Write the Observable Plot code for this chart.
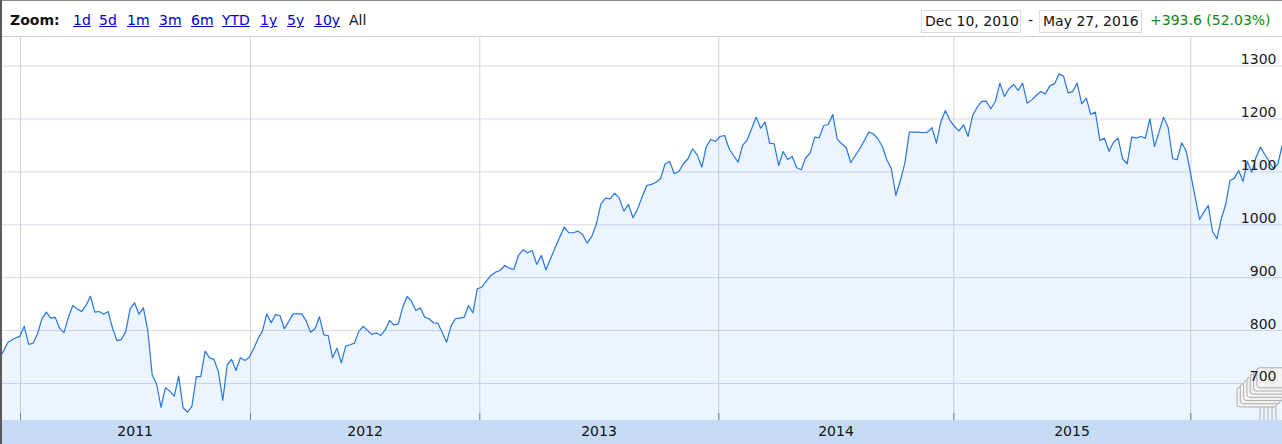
<!DOCTYPE html>
<html>
<head>
<meta charset="utf-8">
<script src="https://cdn.jsdelivr.net/npm/d3@7"></script>
<script src="https://cdn.jsdelivr.net/npm/@observablehq/plot@0.6"></script>
<style>
  body { margin: 0; background: #fff; font-family: "DejaVu Sans", Verdana, sans-serif; }
  #wrap { position: relative; width: 1282px; height: 444px; overflow: hidden; background: #fff; }
  #head { position: absolute; left: 0; top: 0; width: 1282px; height: 37px; box-sizing: border-box;
          border-top: 1px solid #8a8a8a; border-bottom: 1px solid #cfcfcf; background: #fff; font-size: 14px; }
  #head span { position: absolute; top: 11px; line-height: 17px; white-space: nowrap; }
  #head .lnk { color: #0000cc; text-decoration: underline; }
  #head .box { top: 9px; height: 23px; box-sizing: border-box; border: 1px solid #dcdcdc; line-height: 21px; padding-left: 3px; color: #111; }
  #chart { position: absolute; left: 0; top: 37px; }
  #edge { position: absolute; left: 0; top: 0; width: 2px; height: 444px; background: #5a5a5a; }
</style>
</head>
<body>
<div id="wrap">
  <div id="head"></div>
  <div id="chart"></div>
  <div id="edge"></div>
</div>
<script>
// ---------- data (weekly closes) ----------
const v2010 = [756.5, 778, 784.5, 789];
const v2011 = [808, 774, 776, 794, 822, 835, 823.5, 825, 804.5, 796,
  825, 847.5, 841, 836, 847.5, 865, 835, 836, 831, 836,
  804.5, 781, 783, 798, 841, 852.5, 831, 843, 800, 716,
  699, 655, 692, 685.5, 676, 714, 654, 646, 656.5, 713,
  713, 761, 748.5, 745.5, 722.5, 668, 735, 745.5, 724.5, 748.5,
  743.5, 749.5];
const v2012 = [765.5, 784.5, 799, 831.5, 815, 830, 828.5, 803.5, 817, 831.5,
  831.5, 831.5, 817.8, 797, 803.5, 826, 792, 790.7, 748.6, 766.7,
  739, 770.5, 773.2, 776.2, 798.9, 807.7, 800, 792.6, 795.7, 790.7,
  801.3, 819, 810.8, 812.7, 844.2, 864.5, 855.6, 838, 843, 825.3,
  822.3, 814.7, 814, 797, 778.1, 808.3, 822.3, 823.5, 825.3, 847.4,
  833.6, 879];
const v2013 = [882, 893.4, 904.2, 910.4, 913.6, 923, 918, 915.5, 942, 952.7,
  947, 951.4, 925, 942, 915, 935.7, 956.5, 976.6, 995.5, 984.9,
  984.9, 988, 981.7, 965.2, 977.9, 1001.9, 1039.7, 1050.3, 1049.1, 1059.7,
  1050.3, 1025.7, 1038.4, 1013.2, 1030, 1053, 1074.3, 1076.2, 1080.5, 1087,
  1115.3, 1119.7, 1096.4, 1100.8, 1115.3, 1124.8, 1143.7, 1132.3, 1108.9, 1148,
  1161.3, 1157.5];
const v2014 = [1166.9, 1168.8, 1143.7, 1131, 1118.4, 1149.9, 1160.7, 1181.5, 1203.4, 1182.6,
  1194, 1154.3, 1153.1, 1112.1, 1138.6, 1123.4, 1129.1, 1107.7, 1104, 1126.7,
  1135.3, 1165.6, 1164.5, 1187.7, 1189.6, 1208.5, 1161.3, 1153.1, 1145.6, 1117.2,
  1131, 1143.7, 1159.4, 1175.1, 1172.1, 1162.6, 1148, 1122.9, 1105.9, 1055.4,
  1083.7, 1116.4, 1175.1, 1175.1, 1175.1, 1173.9, 1175.1, 1183.4, 1154.3, 1195.3,
  1216.1, 1197.2];
const v2015 = [1185.8, 1177.6, 1189, 1166.9, 1206.6, 1222.3, 1233.1, 1233.6, 1219.3, 1233.1,
  1267.7, 1242.5, 1257, 1265.2, 1253.9, 1267.7, 1229.9, 1236.1, 1244.3, 1251.8,
  1247.4, 1263.1, 1266.3, 1285.2, 1280.9, 1249.3, 1251.8, 1267.7, 1228.7, 1239.3,
  1208.5, 1212.9, 1159.4, 1163.7, 1139.1, 1156.1, 1163.7, 1124.8, 1115.3, 1165.6,
  1163.7, 1166.9, 1163.7, 1200.4, 1148, 1175.1, 1203.4, 1184.5, 1124.8, 1122.9,
  1155, 1139.1];
const v2016 = [1052.2, 1010, 1023.8, 1036.5, 987.3, 973.5, 1011.3, 1037.8, 1083.7, 1088.1,
  1102.6, 1081.9, 1119.7, 1099.4, 1127.8, 1146.7, 1132.9, 1119.7, 1105.9, 1115.3,
  1150.1];

// week ranges (Fridays) that each block of values covers
const periods = [
  ["2010-12-10", "2011-01-01", v2010],
  ["2011-01-01", "2012-01-01", v2011],
  ["2012-01-01", "2013-01-01", v2012],
  ["2013-01-01", "2014-01-01", v2013],
  ["2014-01-01", "2015-01-01", v2014],
  ["2015-01-01", "2016-01-01", v2015],
  ["2016-01-02", "2016-05-28", v2016]
];

const yTicks = [700, 800, 900, 1000, 1100, 1200, 1300];
const yearStarts = ["2011-01-01", "2012-01-01", "2013-01-01", "2014-01-01", "2015-01-01", "2016-01-01"];
const yearLabels = ["2011", "2012", "2013", "2014", "2015"];
const zoomLinks = ["1d", "5d", "1m", "3m", "6m", "YTD", "1y", "5y", "10y"];
const rangeStart = "Dec 10, 2010", rangeEnd = "May 27, 2016", changeText = "+393.6 (52.03%)";

// ---------- build table ----------
const data = [];
for (const [a, b, vals] of periods) {
  const dates = d3.utcFriday.range(new Date(a), new Date(b));
  vals.forEach((v, i) => { if (dates[i]) data.push({date: dates[i], value: v}); });
}

// ---------- header ----------
const head = document.getElementById("head");
function span(text, left, cls, extra) {
  const s = document.createElement("span");
  s.textContent = text; s.style.left = left + "px";
  if (cls) s.className = cls;
  if (extra) Object.assign(s.style, extra);
  head.appendChild(s); return s;
}
span("Zoom:", 10, null, {fontWeight: "bold", color: "#111"});
const linkX = [73, 99, 127, 159, 191, 222, 260, 287, 314];
zoomLinks.forEach((t, i) => span(t, linkX[i], "lnk"));
span("All", 349, null, {color: "#111"});
span(rangeStart, 921, "box", {width: "100px"});
span("-", 1028, null, {color: "#111"});
span(rangeEnd, 1039, "box", {width: "103px"});
span(changeText, 1150, null, {color: "#0a8a0a"});

// ---------- chart ----------
const W = 1282, H = 407;
const yMin = 630, yMax = 1354;

const band = (index, scales, values, dim) => {
  const g = d3.create("svg:g");
  g.append("rect").attr("x", 0).attr("y", dim.height - dim.marginBottom)
    .attr("width", dim.width).attr("height", dim.marginBottom).attr("fill", "#c6dbf3");
  return g.node();
};

const glitch = (index, scales, values, dim) => {
  const g = d3.create("svg:g");
  const ys = scales.y(700), xr = dim.width;
  for (let i = 0; i < 7; i++) {
    g.append("rect").attr("x", xr - 45 + 3.3 * i).attr("y", ys + 4 - 3.2 * i)
      .attr("width", 40).attr("height", 20).attr("rx", 3)
      .attr("fill", "#f2f2f2").attr("stroke", "#9c9c9c").attr("stroke-width", 0.8);
  }
  for (let i = 0; i < 5; i++) {
    g.append("line").attr("x1", xr - 22 + 4 * i).attr("x2", xr - 22 + 4 * i)
      .attr("y1", ys + 24).attr("y2", dim.height - dim.marginBottom)
      .attr("stroke", "#9c9c9c").attr("stroke-width", 0.8);
  }
  return g.node();
};

const chart = Plot.plot({
  width: W, height: H,
  marginLeft: 0, marginRight: 0, marginTop: 0, marginBottom: 24,
  style: {fontFamily: '"DejaVu Sans", Verdana, sans-serif', fontSize: "14px", background: "transparent", overflow: "visible"},
  x: {type: "utc",
      domain: ["2010-12-10", ...yearStarts, "2016-05-27"].map(d => new Date(d)),
      range: [1.7, 20, 250, 479.3, 718.3, 953.3, 1190.3, 1281.7],
      axis: null},
  y: {domain: [yMin, yMax], axis: null},
  marks: [
    band,
    Plot.ruleY(yTicks, {stroke: "#d8d8ec", strokeWidth: 1}),
    Plot.ruleX(yearStarts, {x: d => new Date(d), stroke: "#d2d2d2", strokeWidth: 1}),
    Plot.ruleX(yearStarts, {x: d => new Date(d), y1: yMin, y2: yMin + 13, stroke: "#808080", strokeWidth: 1}),
    Plot.areaY(data, {x: "date", y1: yMin, y2: "value", fill: "#0078ff", fillOpacity: 0.08, curve: "linear"}),
    Plot.lineY(data, {x: "date", y: "value", stroke: "#2676e0", strokeWidth: 1.2}),
    glitch,
    Plot.text(yTicks, {y: d => d, text: d => String(d), frameAnchor: "right", textAnchor: "end",
                       lineAnchor: "bottom", dx: -6, dy: -2, fill: "#1a1a1a", fontSize: 14}),
    Plot.text(yearLabels, {x: d => new Date(`${d}-07-02`), text: d => d, frameAnchor: "bottom",
                           lineAnchor: "middle", dy: 11, fill: "#111", fontSize: 14})
  ]
});
document.getElementById("chart").appendChild(chart);
</script>
</body>
</html>
